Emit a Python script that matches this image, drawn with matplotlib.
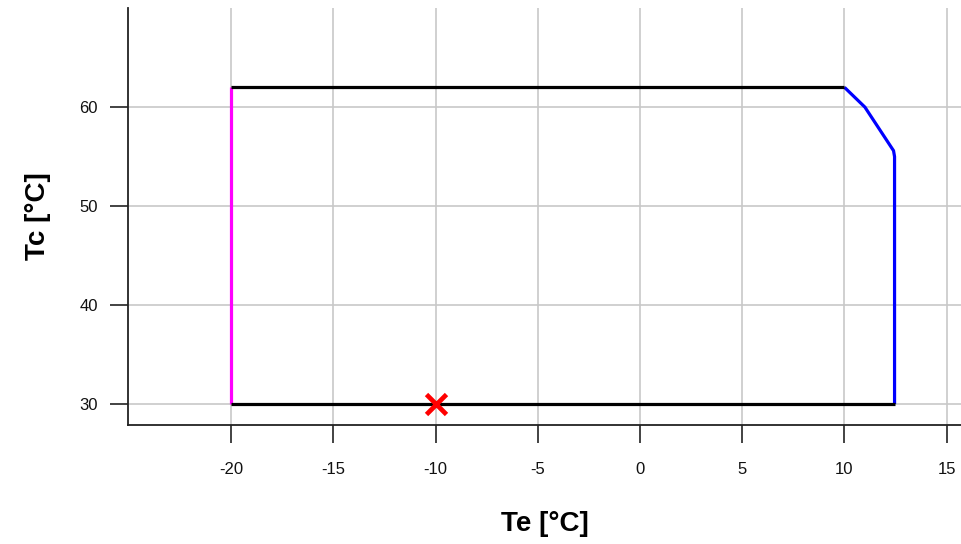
import matplotlib
matplotlib.use("Agg")
import matplotlib.pyplot as plt

# envelope boundary segments (Te, Tc in °C)
top_te = [-20, 10]
top_tc = [62, 62]
bottom_te = [-20, 12.45]
bottom_tc = [30, 30]
left_te = [-20, -20]
left_tc = [30, 62]
right_te = [10, 10.4, 11, 12.4, 12.45, 12.45]
right_tc = [62, 61.2, 60, 55.6, 55, 30]

# operating point
point_te = [-10]
point_tc = [30]

x_ticks = [-20, -15, -10, -5, 0, 5, 10, 15]
y_ticks = [30, 40, 50, 60]

plt.rcParams.update({
    "font.family": ["Liberation Sans", "DejaVu Sans"],
    "axes.unicode_minus": False,
})

fig = plt.figure(figsize=(9.61, 5.44), dpi=100)
ax = fig.add_axes([0.1335, 0.219, 0.8665, 0.766])

ax.plot(left_te, left_tc, color="#ff00ff", lw=2.3, zorder=3, solid_capstyle="butt")
ax.plot(top_te, top_tc, color="black", lw=2.3, zorder=4, solid_capstyle="butt")
ax.plot(bottom_te, bottom_tc, color="black", lw=2.3, zorder=4, solid_capstyle="butt")
ax.plot(right_te, right_tc, color="#0000ff", lw=2.3, zorder=3, solid_capstyle="butt")
ax.plot(point_te, point_tc, marker="x", color="#ff0000", ms=15, mew=3.4,
        ls="none", zorder=5)

ax.set_xlim(-25.03, 15.7)
ax.set_ylim(27.9, 70)
ax.set_xticks(x_ticks)
ax.set_yticks(y_ticks)
ax.set_xticklabels([str(v) for v in x_ticks])
ax.set_yticklabels([str(v) for v in y_ticks])

ax.grid(True, color="#c8c8c8", lw=1.2, zorder=0)
ax.set_axisbelow(True)

for side in ["top", "right"]:
    ax.spines[side].set_visible(False)
for side in ["left", "bottom"]:
    ax.spines[side].set_color("#222222")
    ax.spines[side].set_linewidth(1.3)

ax.tick_params(axis="both", direction="out", length=13, width=1.2,
               color="#222222", labelsize=12, labelcolor="#111111")
ax.tick_params(axis="x", pad=14)
ax.tick_params(axis="y", pad=9)

ax.set_xlabel("Te [°C]", fontsize=20, fontweight="bold", labelpad=24)
ax.set_ylabel("Tc [°C]", fontsize=20, fontweight="bold", labelpad=20)

fig.savefig("out.png", dpi=100)
